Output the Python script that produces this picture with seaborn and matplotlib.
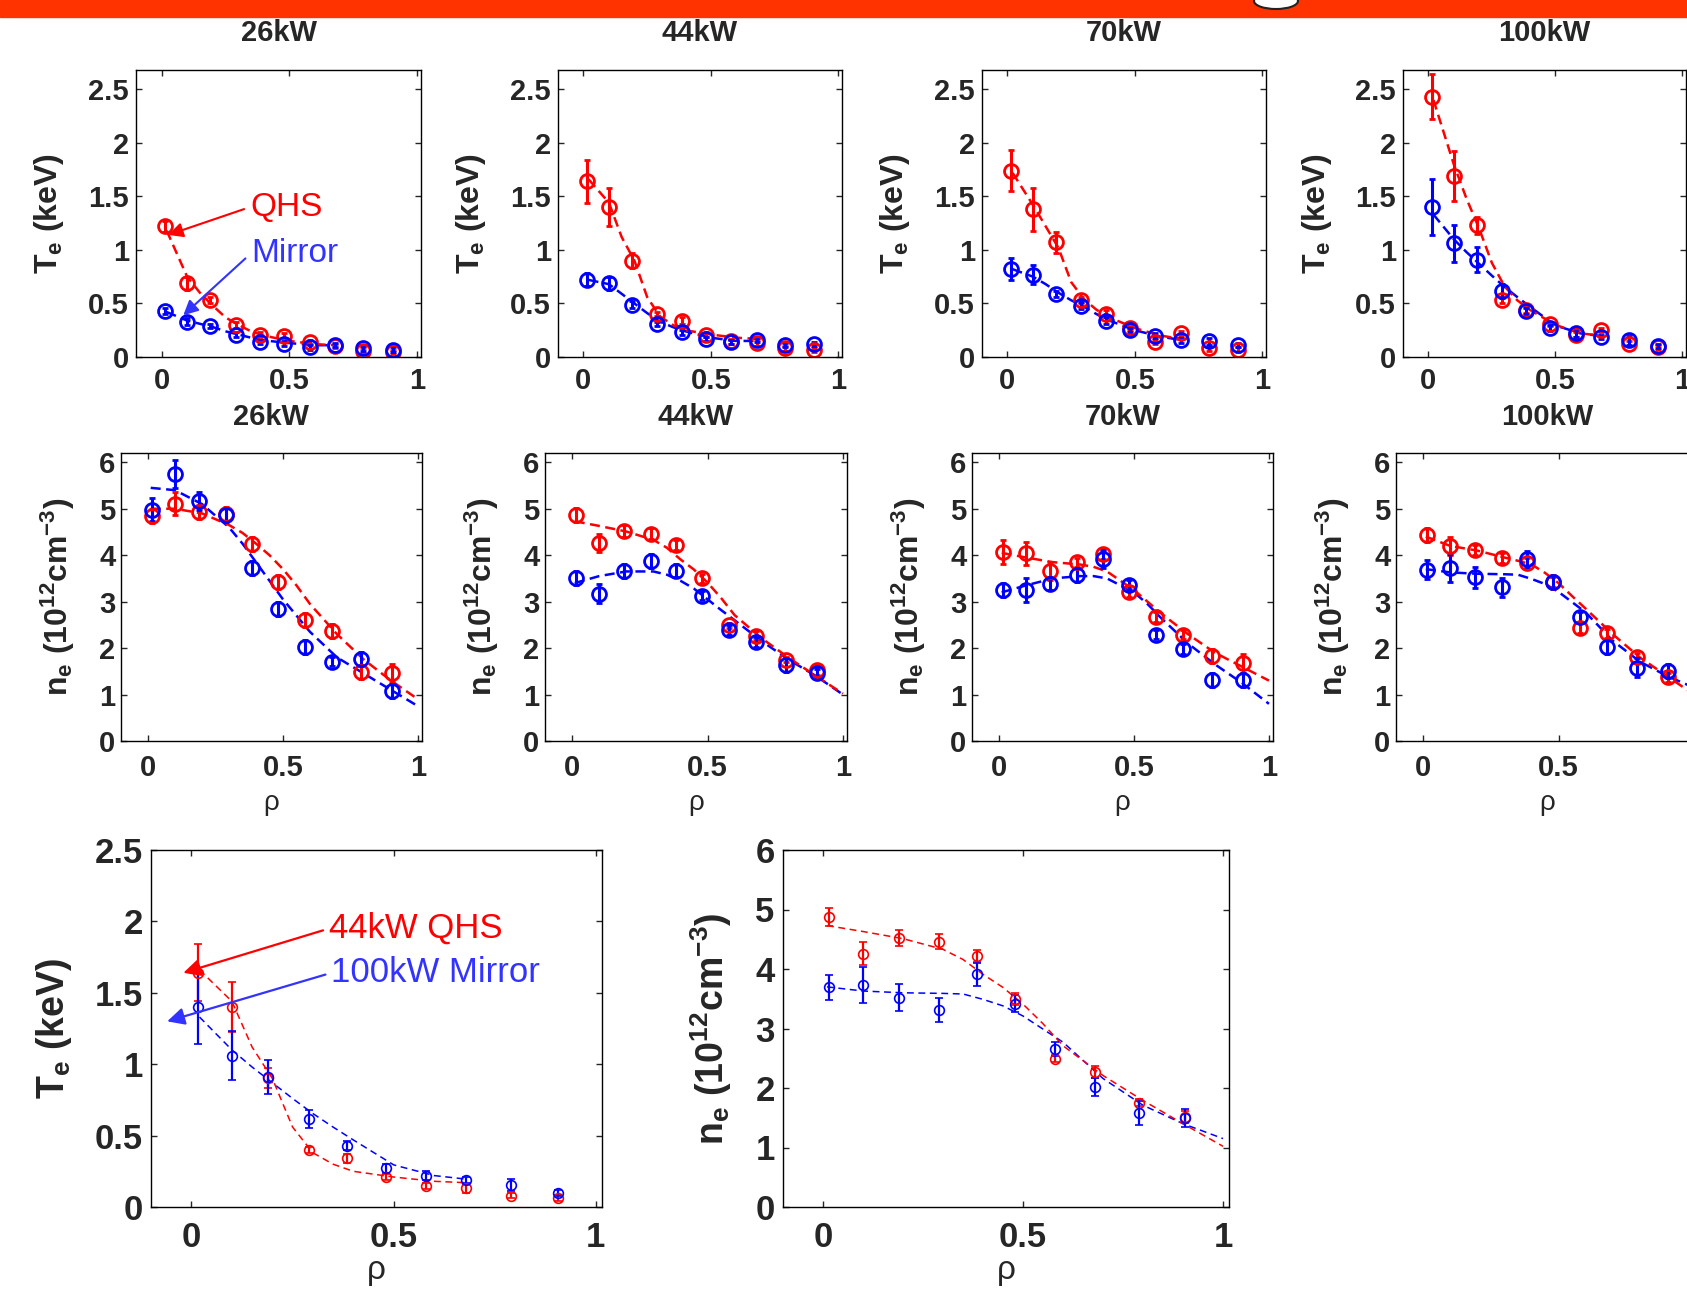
import numpy as np
import pandas as pd
import seaborn as sns
import matplotlib
matplotlib.use('Agg')
import matplotlib.pyplot as plt
from matplotlib.patches import Rectangle, Ellipse

# radial positions of the measurements
rho = [0.015, 0.1, 0.19, 0.29, 0.385, 0.48, 0.58, 0.68, 0.79, 0.905]
te_fit_rho = [0.02, 0.1, 0.15, 0.2, 0.25, 0.3, 0.35, 0.4, 0.5, 0.6, 0.68]
ne_fit_rho = [0.01, 0.1, 0.2, 0.3, 0.35, 0.4, 0.45, 0.5, 0.55, 0.6, 0.7, 0.8, 0.9, 1.0]

powers = ['26kW', '44kW', '70kW', '100kW']

# electron temperature (keV)
te_qhs = {
    '26kW': [1.22, 0.69, 0.53, 0.30, 0.21, 0.20, 0.14, 0.10, 0.06, 0.05],
    '44kW': [1.64, 1.40, 0.90, 0.40, 0.34, 0.21, 0.145, 0.13, 0.08, 0.065],
    '70kW': [1.74, 1.38, 1.07, 0.53, 0.405, 0.27, 0.14, 0.22, 0.08, 0.07],
    '100kW': [2.43, 1.69, 1.23, 0.53, 0.44, 0.31, 0.21, 0.25, 0.125, 0.09],
}
te_qhs_err = {
    '26kW': [0.05, 0.06, 0.03, 0.03, 0.02, 0.02, 0.02, 0.02, 0.02, 0.02],
    '44kW': [0.20, 0.175, 0.07, 0.02, 0.03, 0.02, 0.02, 0.03, 0.02, 0.02],
    '70kW': [0.19, 0.20, 0.10, 0.03, 0.03, 0.02, 0.02, 0.02, 0.02, 0.02],
    '100kW': [0.21, 0.23, 0.08, 0.03, 0.03, 0.02, 0.02, 0.02, 0.02, 0.02],
}
te_mir = {
    '26kW': [0.43, 0.33, 0.29, 0.21, 0.14, 0.125, 0.09, 0.11, 0.08, 0.07],
    '44kW': [0.72, 0.69, 0.49, 0.305, 0.23, 0.165, 0.14, 0.16, 0.11, 0.12],
    '70kW': [0.82, 0.77, 0.59, 0.48, 0.34, 0.25, 0.20, 0.155, 0.145, 0.115],
    '100kW': [1.40, 1.06, 0.91, 0.615, 0.43, 0.27, 0.22, 0.19, 0.155, 0.10],
}
te_mir_err = {
    '26kW': [0.03, 0.03, 0.02, 0.02, 0.02, 0.02, 0.02, 0.02, 0.02, 0.02],
    '44kW': [0.06, 0.06, 0.03, 0.02, 0.02, 0.02, 0.02, 0.02, 0.02, 0.02],
    '70kW': [0.10, 0.09, 0.03, 0.03, 0.03, 0.02, 0.02, 0.02, 0.03, 0.02],
    '100kW': [0.26, 0.17, 0.12, 0.065, 0.03, 0.03, 0.03, 0.02, 0.04, 0.02],
}
te_qhs_fit = {
    '26kW': [1.18, 0.75, 0.60, 0.48, 0.37, 0.30, 0.24, 0.20, 0.15, 0.12, 0.11],
    '44kW': [1.66, 1.44, 1.12, 0.90, 0.56, 0.38, 0.30, 0.25, 0.21, 0.18, 0.17],
    '70kW': [1.72, 1.42, 1.22, 1.02, 0.70, 0.54, 0.44, 0.37, 0.27, 0.20, 0.17],
    '100kW': [2.40, 1.80, 1.48, 1.20, 0.88, 0.66, 0.53, 0.44, 0.30, 0.22, 0.20],
}
te_mir_fit = {
    '26kW': [0.42, 0.34, 0.31, 0.28, 0.24, 0.21, 0.18, 0.155, 0.13, 0.11, 0.11],
    '44kW': [0.72, 0.68, 0.59, 0.50, 0.41, 0.33, 0.28, 0.24, 0.18, 0.15, 0.15],
    '70kW': [0.82, 0.75, 0.68, 0.60, 0.53, 0.47, 0.40, 0.34, 0.25, 0.19, 0.16],
    '100kW': [1.33, 1.10, 0.98, 0.87, 0.76, 0.655, 0.56, 0.47, 0.295, 0.22, 0.195],
}

# electron density (1e12 cm^-3)
ne_qhs = {
    '26kW': [4.85, 5.11, 4.92, 4.88, 4.25, 3.42, 2.61, 2.36, 1.49, 1.46],
    '44kW': [4.87, 4.26, 4.52, 4.46, 4.22, 3.50, 2.49, 2.27, 1.75, 1.52],
    '70kW': [4.07, 4.04, 3.66, 3.85, 4.02, 3.20, 2.67, 2.29, 1.82, 1.67],
    '100kW': [4.43, 4.20, 4.11, 3.94, 3.84, 3.42, 2.43, 2.32, 1.80, 1.37],
}
ne_qhs_err = {
    '26kW': [0.15, 0.25, 0.15, 0.15, 0.15, 0.15, 0.15, 0.15, 0.15, 0.20],
    '44kW': [0.15, 0.20, 0.13, 0.12, 0.10, 0.10, 0.06, 0.10, 0.06, 0.10],
    '70kW': [0.25, 0.25, 0.20, 0.10, 0.10, 0.10, 0.10, 0.10, 0.15, 0.20],
    '100kW': [0.15, 0.20, 0.10, 0.10, 0.10, 0.10, 0.10, 0.10, 0.10, 0.10],
}
ne_mir = {
    '26kW': [4.98, 5.75, 5.17, 4.86, 3.73, 2.84, 2.03, 1.71, 1.76, 1.07],
    '44kW': [3.50, 3.17, 3.66, 3.87, 3.67, 3.13, 2.39, 2.13, 1.64, 1.46],
    '70kW': [3.25, 3.25, 3.39, 3.58, 3.92, 3.36, 2.29, 1.98, 1.31, 1.31],
    '100kW': [3.69, 3.73, 3.52, 3.31, 3.91, 3.42, 2.66, 2.02, 1.58, 1.50],
}
ne_mir_err = {
    '26kW': [0.25, 0.30, 0.20, 0.15, 0.15, 0.15, 0.15, 0.10, 0.15, 0.15],
    '44kW': [0.15, 0.20, 0.15, 0.15, 0.15, 0.10, 0.10, 0.10, 0.15, 0.10],
    '70kW': [0.15, 0.25, 0.15, 0.15, 0.20, 0.10, 0.10, 0.10, 0.15, 0.15],
    '100kW': [0.21, 0.30, 0.23, 0.20, 0.19, 0.15, 0.12, 0.15, 0.20, 0.15],
}
ne_qhs_fit = {
    '26kW': [5.0, 5.0, 4.9, 4.65, 4.48, 4.25, 4.0, 3.7, 3.35, 2.95, 2.3, 1.75, 1.3, 0.9],
    '44kW': [4.73, 4.63, 4.51, 4.33, 4.16, 3.91, 3.69, 3.41, 3.08, 2.71, 2.21, 1.79, 1.40, 1.02],
    '70kW': [4.05, 3.95, 3.85, 3.8, 3.75, 3.65, 3.45, 3.25, 3.0, 2.75, 2.3, 1.9, 1.6, 1.3],
    '100kW': [4.4, 4.2, 4.1, 3.95, 3.88, 3.8, 3.62, 3.4, 3.12, 2.85, 2.3, 1.8, 1.4, 1.0],
}
ne_mir_fit = {
    '26kW': [5.45, 5.4, 5.1, 4.6, 4.25, 3.85, 3.45, 3.05, 2.7, 2.35, 1.8, 1.45, 1.1, 0.75],
    '44kW': [3.4, 3.55, 3.65, 3.65, 3.58, 3.45, 3.28, 3.05, 2.82, 2.6, 2.15, 1.75, 1.4, 1.0],
    '70kW': [3.2, 3.35, 3.5, 3.55, 3.55, 3.5, 3.35, 3.2, 2.95, 2.65, 2.1, 1.65, 1.25, 0.8],
    '100kW': [3.70, 3.63, 3.60, 3.59, 3.58, 3.49, 3.38, 3.21, 2.99, 2.77, 2.16, 1.71, 1.40, 1.15],
}

RED = '#ff0000'
BLUE = '#0000ff'

sns.set_style('ticks')
plt.rcParams['font.family'] = ['Liberation Sans', 'DejaVu Sans']
plt.rcParams['font.weight'] = 'bold'
plt.rcParams['mathtext.fontset'] = 'custom'
plt.rcParams['mathtext.rm'] = 'Liberation Sans:bold'
plt.rcParams['mathtext.it'] = 'Liberation Sans:bold'
plt.rcParams['mathtext.bf'] = 'Liberation Sans:bold'
plt.rcParams['mathtext.default'] = 'bf'

W, H = 1687, 1291
fig = plt.figure(figsize=(W / 100, H / 100), dpi=100)


def rect(l, t, r, b):
    return [l / W, 1 - b / H, (r - l) / W, (b - t) / H]


def draw(ax, fit_rho, qhs, qhs_err, mir, mir_err, qfit, mfit, big=False):
    lw = 1.1 if big else 1.8
    ms = 7 if big else 10
    mew = 1.2 if big else 2.0
    for fit, c in [(mfit, BLUE), (qfit, RED)]:
        df = pd.DataFrame({'rho': fit_rho, 'val': fit})
        sns.lineplot(data=df, x='rho', y='val', ax=ax, color=c, lw=lw,
                     linestyle='--')
        ax.lines[-1].set_dashes([4.5, 3] if big else [4, 2.2])
    for vals, err, c in [(qhs, qhs_err, RED), (mir, mir_err, BLUE)]:
        ax.errorbar(rho, vals, yerr=err, fmt='o', mfc='none', mec=c,
                    ecolor=c, ms=ms, mew=mew, elinewidth=1.6 if big else 2.2,
                    capsize=3 if big else 2, capthick=1.6 if big else 2)
    ax.set_xlabel('')
    ax.set_ylabel('')


def style(ax, yticks, ylim, fs, xpad, ypad, xlabels=('0', '0.5', '1')):
    ax.set_xlim(-0.1, 1.015)
    ax.set_ylim(*ylim)
    ax.set_xticks([0, 0.5, 1], labels=list(xlabels))
    ax.set_yticks(yticks, labels=[('%g' % v) for v in yticks])
    ax.tick_params(direction='in', top=True, right=True, length=4, width=1,
                   labelsize=fs)
    ax.tick_params(axis='x', pad=xpad)
    ax.tick_params(axis='y', pad=ypad)
    for s in ax.spines.values():
        s.set_linewidth(1.0)
        s.set_color('black')


# orange header bar
fig.patches.append(Rectangle((0, 1 - 16.5 / H), 1, 16.5 / H, transform=fig.transFigure,
                             color='#ff3300', zorder=0))
fig.patches.append(Ellipse((1276 / W, 1 - 1 / H), 44 / W, 16 / H, transform=fig.transFigure,
                           facecolor='white', edgecolor='#222222', lw=1.5, zorder=1))

top_x = [(136, 421), (558, 842), (982, 1266), (1403, 1686)]
mid_x = [(121, 422), (545, 847), (972, 1273), (1396, 1698)]

for i, p in enumerate(powers):
    ax = fig.add_axes(rect(top_x[i][0], 70, top_x[i][1], 357))
    draw(ax, te_fit_rho, te_qhs[p], te_qhs_err[p], te_mir[p], te_mir_err[p],
         te_qhs_fit[p], te_mir_fit[p])
    style(ax, [0, 0.5, 1, 1.5, 2, 2.5], (0, 2.68), 21, 7, 5)
    ax.set_ylabel(r'$T_e$ (keV)', fontsize=23, fontweight='bold')
    ax.yaxis.set_label_coords(-0.245, 0.5)
    ax.text(0.5, 1.13, p, transform=ax.transAxes, ha='center', va='center',
            fontsize=21, fontweight='bold')
    if i == 0:
        ax.annotate('QHS', xy=(0.026, 1.14), xytext=(0.346, 1.40), color=RED,
                    fontsize=24, fontweight='normal', ha='left', va='center',
                    arrowprops=dict(arrowstyle='-|>', color=RED, lw=1.5,
                                    mutation_scale=22, shrinkA=2, shrinkB=0,
                                    relpos=(0, 0.5)))
        ax.annotate('Mirror', xy=(0.085, 0.39), xytext=(0.349, 0.966), color='#3333ff',
                    fontsize=24, fontweight='normal', ha='left', va='center',
                    arrowprops=dict(arrowstyle='-|>', color='#3333ff', lw=1.5,
                                    mutation_scale=22, shrinkA=2, shrinkB=0,
                                    relpos=(0, 0.5)))

    ax = fig.add_axes(rect(mid_x[i][0], 453, mid_x[i][1], 741))
    draw(ax, ne_fit_rho, ne_qhs[p], ne_qhs_err[p], ne_mir[p], ne_mir_err[p],
         ne_qhs_fit[p], ne_mir_fit[p])
    # the last panel runs past the picture edge, its "1" is not visible
    xl = ('0', '0.5', '') if i == 3 else ('0', '0.5', '1')
    style(ax, [0, 1, 2, 3, 4, 5, 6], (0, 6.2), 21, 9, 4, xlabels=xl)
    ax.set_ylabel(r'$n_e$ (10$^{12}$cm$^{-3}$)', fontsize=23, fontweight='bold')
    ax.yaxis.set_label_coords(-0.145, 0.5)
    ax.text(0.5, 1.125, p, transform=ax.transAxes, ha='center', va='center',
            fontsize=21, fontweight='bold')
    ax.set_xlabel('ρ', fontsize=20, fontweight='normal')
    ax.xaxis.set_label_coords(0.5, -0.17)

# bottom comparison: 44kW QHS vs 100kW Mirror
ax = fig.add_axes(rect(151, 850, 602, 1207))
draw(ax, te_fit_rho, te_qhs['44kW'], te_qhs_err['44kW'], te_mir['100kW'],
     te_mir_err['100kW'], te_qhs_fit['44kW'], te_mir_fit['100kW'], big=True)
style(ax, [0, 0.5, 1, 1.5, 2, 2.5], (0, 2.5), 25, 10, 6)
ax.set_ylabel(r'$T_e$ (keV)', fontsize=27, fontweight='bold')
ax.yaxis.set_label_coords(-0.17, 0.5)
ax.set_xlabel('ρ', fontsize=24, fontweight='normal')
ax.xaxis.set_label_coords(0.5, -0.135)
ax.annotate('44kW QHS', xy=(-0.02, 1.64), xytext=(0.34, 1.95), color=RED,
            fontsize=25, fontweight='normal', ha='left', va='center',
            arrowprops=dict(arrowstyle='-|>', color=RED, lw=1.6,
                            mutation_scale=26, shrinkA=2, shrinkB=0,
                            relpos=(0, 0.5)))
ax.annotate('100kW Mirror', xy=(-0.06, 1.30), xytext=(0.346, 1.64), color='#3333ff',
            fontsize=25, fontweight='normal', ha='left', va='center',
            arrowprops=dict(arrowstyle='-|>', color='#3333ff', lw=1.6,
                            mutation_scale=26, shrinkA=2, shrinkB=0,
                            relpos=(0, 0.5)))

ax = fig.add_axes(rect(783, 850, 1229, 1207))
draw(ax, ne_fit_rho, ne_qhs['44kW'], ne_qhs_err['44kW'], ne_mir['100kW'],
     ne_mir_err['100kW'], ne_qhs_fit['44kW'], ne_mir_fit['100kW'], big=True)
style(ax, [0, 1, 2, 3, 4, 5, 6], (0, 6), 25, 10, 6)
ax.set_ylabel(r'$n_e$ (10$^{12}$cm$^{-3}$)', fontsize=27, fontweight='bold')
ax.yaxis.set_label_coords(-0.11, 0.5)
ax.set_xlabel('ρ', fontsize=24, fontweight='normal')
ax.xaxis.set_label_coords(0.5, -0.135)

fig.savefig('out.png', dpi=100, facecolor='white')
